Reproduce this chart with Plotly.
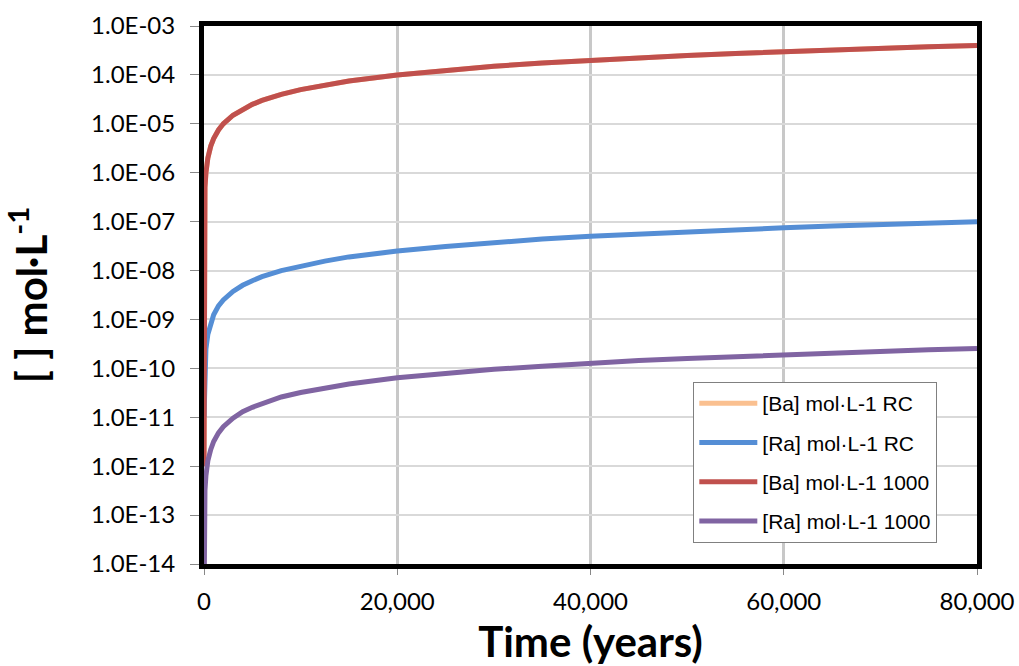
import plotly.graph_objects as go

# Time (years)
time_years = [0, 50, 100, 200, 400, 700, 1000, 1500, 2000, 3000, 4000, 5000, 6000, 8000,
              10000, 12500, 15000, 20000, 25000, 30000, 35000, 40000, 45000, 50000,
              55000, 60000, 65000, 70000, 75000, 80000]

ba_1000 = [1e-12, 2.5e-7, 5e-7, 1e-6, 2e-6, 3.5e-6, 5e-6, 7.5e-6, 1e-5, 1.5e-5, 2e-5, 2.5e-5, 3e-5, 4e-5,
           5e-5, 6.2e-5, 7.5e-5, 1e-4, 1.25e-4, 1.5e-4, 1.75e-4, 2e-4, 2.25e-4, 2.5e-4,
           2.75e-4, 3e-4, 3.25e-4, 3.5e-4, 3.75e-4, 4e-4]

ba_rc = [1e-12, 2.5e-7, 5e-7, 1e-6, 2e-6, 3.5e-6, 5e-6, 7.5e-6, 1e-5, 1.5e-5, 2e-5, 2.5e-5, 3e-5, 4e-5,
         5e-5, 6.2e-5, 7.5e-5, 1e-4, 1.25e-4, 1.5e-4, 1.75e-4, 2e-4, 2.25e-4, 2.5e-4,
         2.75e-4, 3e-4, 3.25e-4, 3.5e-4, 3.75e-4, 4e-4]

ra_rc = [1e-11, 6.2e-11, 1.25e-10, 2.5e-10, 5e-10, 8.7e-10, 1.25e-9, 1.9e-9, 2.5e-9, 3.75e-9, 5e-9, 6.2e-9,
         7.5e-9, 1e-8, 1.25e-8, 1.56e-8, 1.9e-8, 2.5e-8, 3.1e-8, 3.75e-8, 4.4e-8, 5e-8, 5.6e-8,
         6.25e-8, 6.9e-8, 7.5e-8, 8.1e-8, 8.75e-8, 9.4e-8, 1e-7]

ra_1000 = [1e-15, 1.6e-13, 3.2e-13, 6.4e-13, 1.3e-12, 2.2e-12, 3.2e-12, 4.8e-12, 6.4e-12, 9.6e-12, 1.3e-11,
           1.6e-11, 1.9e-11, 2.6e-11, 3.2e-11, 4e-11, 4.8e-11, 6.4e-11, 8e-11, 9.6e-11, 1.1e-10,
           1.3e-10, 1.45e-10, 1.6e-10, 1.75e-10, 1.9e-10, 2.1e-10, 2.25e-10, 2.4e-10, 2.55e-10]

series_names = ["[Ba] mol·L-1 RC", "[Ra] mol·L-1 RC", "[Ba] mol·L-1 1000", "[Ra] mol·L-1 1000"]
series_values = [ba_rc, ra_rc, ba_1000, ra_1000]
series_colors = ["#FAC090", "#558ED5", "#C0504D", "#8064A2"]

y_tick_vals = [1e-3, 1e-4, 1e-5, 1e-6, 1e-7, 1e-8, 1e-9, 1e-10, 1e-11, 1e-12, 1e-13, 1e-14]
y_tick_text = ["1.0E-03", "1.0E-04", "1.0E-05", "1.0E-06", "1.0E-07", "1.0E-08",
               "1.0E-09", "1.0E-10", "1.0E-11", "1.0E-12", "1.0E-13", "1.0E-14"]
x_tick_vals = [0, 20000, 40000, 60000, 80000]

fig = go.Figure()
for i, (name, vals, col) in enumerate(zip(series_names, series_values, series_colors)):
    fig.add_trace(go.Scatter(
        x=time_years, y=vals, mode="lines", name=name,
        line=dict(color=col, width=5),
        legendgroup=f"g{i}",
    ))

fig.update_layout(
    width=1019, height=666,
    margin=dict(l=204, r=42, t=26, b=102),
    paper_bgcolor="white", plot_bgcolor="white",
    font=dict(family="Lato, Liberation Sans, sans-serif", color="black"),
    showlegend=True,
    legend=dict(
        x=0.633, y=0.039, xanchor="left", yanchor="bottom",
        bgcolor="white", bordercolor="#808080", borderwidth=1,
        font=dict(family="Liberation Sans, Arial, sans-serif", size=21, color="black"),
        tracegroupgap=9,
        itemwidth=58,
    ),
)

fig.update_xaxes(
    range=[0, 80000], automargin=False,
    tickvals=x_tick_vals, tickformat=",",
    tickfont=dict(size=24, family="Lato, sans-serif"),
    showgrid=True, gridcolor="#C8C8C8", gridwidth=2.5,
    showline=True, linecolor="black", linewidth=5, mirror=True,
    ticks="outside", ticklen=6, tickcolor="#888888",
    ticklabelstandoff=6,
    layer="below traces",
    zeroline=False,
    title=dict(text="<b>Time (years)</b>", font=dict(size=42, family="Lato, sans-serif"), standoff=16),
)

fig.update_yaxes(
    type="log", range=[-14, -3], automargin=False,
    tickvals=y_tick_vals, ticktext=y_tick_text,
    tickfont=dict(size=24, family="Lato, sans-serif"),
    showgrid=True, gridcolor="#D9D9D9", gridwidth=1.5,
    showline=True, linecolor="black", linewidth=5, mirror=True,
    ticks="outside", ticklen=9, tickcolor="#888888",
    ticklabelstandoff=10,
    layer="below traces",
    zeroline=False,
    title=dict(text="<b>[ ] mol·L<sup>-1</sup></b>", font=dict(size=42, family="Lato, sans-serif"), standoff=38),
)

fig.write_html(
    "out.html",
    config={"displayModeBar": False},
    post_script="document.body.style.margin='0';document.body.style.overflow='hidden';",
)
